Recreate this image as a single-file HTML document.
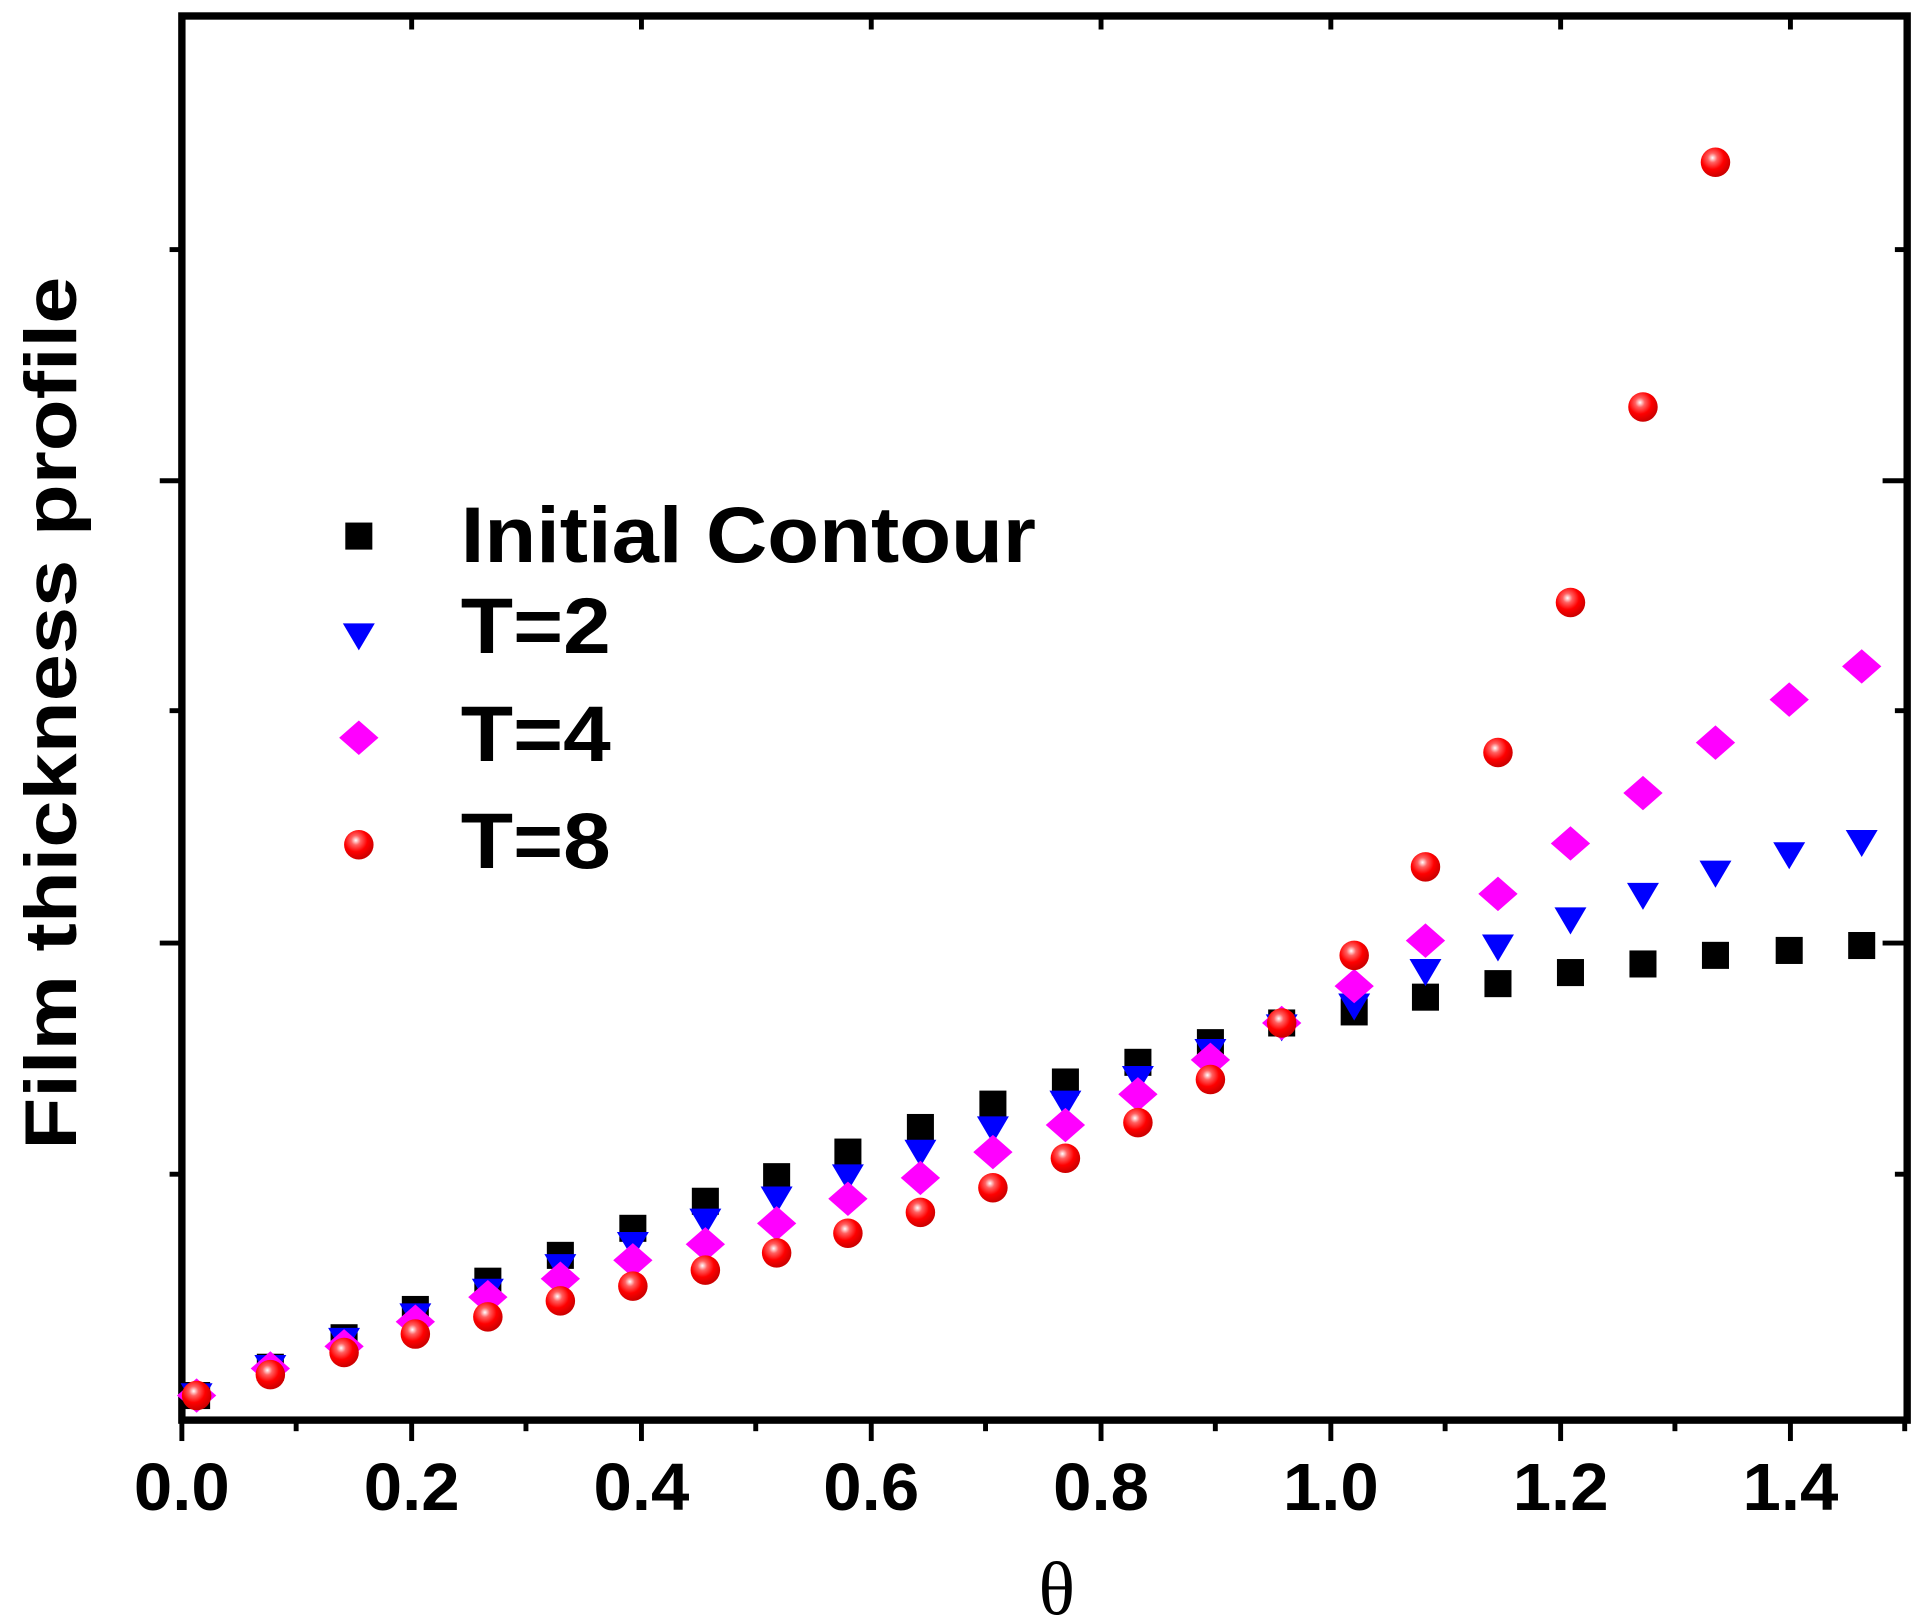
<!DOCTYPE html>
<html><head><style>html,body{margin:0;padding:0;background:#fff;}svg{display:block}</style></head>
<body>
<svg width="1917" height="1623" viewBox="0 0 1560 1320" preserveAspectRatio="none" xmlns="http://www.w3.org/2000/svg">
<defs>
<radialGradient id="g" cx="0.4" cy="0.35" r="0.65">
<stop offset="0" stop-color="#fff"/><stop offset="0.25" stop-color="#ff6060"/><stop offset="0.6" stop-color="#f00"/><stop offset="1" stop-color="#c00"/>
</radialGradient>
<rect id="sq" x="-11" y="-11" width="22" height="22" fill="#000"/>
<path id="tri" d="M-13,-10 L13,-10 L0,12 Z" fill="#0000ff"/>
<path id="dia" d="M0,-14 L16,0 L0,14 L-16,0 Z" fill="#ff00ff"/>
<circle id="cir" r="12" fill="url(#g)"/>
</defs>
<g stroke="#000" fill="none">
<rect x="148" y="13" width="1404" height="1142" stroke-width="6"/>
</g>
<g stroke="#000" stroke-width="4">
<line x1="148" y1="1155" x2="148" y2="1172"/><line x1="335" y1="1155" x2="335" y2="1172"/><line x1="522" y1="1155" x2="522" y2="1172"/><line x1="709" y1="1155" x2="709" y2="1172"/><line x1="896" y1="1155" x2="896" y2="1172"/><line x1="1083" y1="1155" x2="1083" y2="1172"/><line x1="1270" y1="1155" x2="1270" y2="1172"/><line x1="1457" y1="1155" x2="1457" y2="1172"/>
<line x1="241" y1="1155" x2="241" y2="1164"/><line x1="428" y1="1155" x2="428" y2="1164"/><line x1="615" y1="1155" x2="615" y2="1164"/><line x1="802" y1="1155" x2="802" y2="1164"/><line x1="989" y1="1155" x2="989" y2="1164"/><line x1="1176" y1="1155" x2="1176" y2="1164"/><line x1="1363" y1="1155" x2="1363" y2="1164"/><line x1="1550" y1="1155" x2="1550" y2="1164"/>
<line x1="335" y1="13" x2="335" y2="24"/><line x1="522" y1="13" x2="522" y2="24"/><line x1="709" y1="13" x2="709" y2="24"/><line x1="896" y1="13" x2="896" y2="24"/><line x1="1083" y1="13" x2="1083" y2="24"/><line x1="1270" y1="13" x2="1270" y2="24"/><line x1="1457" y1="13" x2="1457" y2="24"/>
<line x1="138" y1="203" x2="148" y2="203"/><line x1="130" y1="391" x2="148" y2="391"/><line x1="138" y1="578" x2="148" y2="578"/><line x1="130" y1="767" x2="148" y2="767"/><line x1="138" y1="955" x2="148" y2="955"/>
<line x1="1542" y1="203" x2="1552" y2="203"/><line x1="1532" y1="391" x2="1552" y2="391"/><line x1="1542" y1="578" x2="1552" y2="578"/><line x1="1532" y1="767" x2="1552" y2="767"/><line x1="1542" y1="955" x2="1552" y2="955"/>
</g>
<g font-family="Liberation Sans, sans-serif" font-weight="bold" font-size="54" text-anchor="middle">
<text x="148" y="1228" textLength="78" lengthAdjust="spacingAndGlyphs">0.0</text><text x="335" y="1228" textLength="78" lengthAdjust="spacingAndGlyphs">0.2</text><text x="522" y="1228" textLength="78" lengthAdjust="spacingAndGlyphs">0.4</text><text x="709" y="1228" textLength="78" lengthAdjust="spacingAndGlyphs">0.6</text><text x="896" y="1228" textLength="78" lengthAdjust="spacingAndGlyphs">0.8</text><text x="1083" y="1228" textLength="78" lengthAdjust="spacingAndGlyphs">1.0</text><text x="1270" y="1228" textLength="78" lengthAdjust="spacingAndGlyphs">1.2</text><text x="1457" y="1228" textLength="78" lengthAdjust="spacingAndGlyphs">1.4</text>
</g>
<text x="860" y="1313" font-family="Liberation Serif, serif" font-size="62" text-anchor="middle">θ</text>
<text transform="translate(62,580) rotate(-90)" font-family="Liberation Sans, sans-serif" font-weight="bold" font-size="60" text-anchor="middle" textLength="710" lengthAdjust="spacingAndGlyphs">Film thickness profile</text>
<g font-family="Liberation Sans, sans-serif" font-weight="bold" font-size="64">
<use href="#sq" x="292" y="436"/><text x="375" y="457" textLength="468" lengthAdjust="spacingAndGlyphs">Initial Contour</text>
<use href="#tri" x="292" y="517"/><text x="375" y="531" textLength="122" lengthAdjust="spacingAndGlyphs">T=2</text>
<use href="#dia" x="292" y="600"/><text x="375" y="619" textLength="122" lengthAdjust="spacingAndGlyphs">T=4</text>
<use href="#cir" x="292" y="687"/><text x="375" y="706" textLength="122" lengthAdjust="spacingAndGlyphs">T=8</text>
</g>
<g id="data"></g>
<script>
var xs=[160,220,280,338,397,456,515,574,632,690,749,808,867,926,985,1043,1102,1160,1219,1278,1337,1396,1456,1515];
var S=[1135,1112,1088,1065,1042,1021,999,977,957,937,917,898,880,864,848,832,823,811,800,791,784,777,773,769];
var T=[1135,1112,1090,1070,1050,1030,1012,993,975,957,937,918,897,877,855,835,818,790,770,748,728,710,695,685];
var D=[1135,1113,1095,1075,1055,1040,1025,1012,995,975,958,937,915,890,862,832,802,765,727,686,645,604,569,542];
var C=[1135,1118,1100,1085,1071,1058,1046,1033,1019,1003,986,966,942,913,878,832,777,705,612,490,331,132];
var g=document.getElementById('data'),ns='http://www.w3.org/2000/svg';
function add(id,arr){arr.forEach(function(y,i){var u=document.createElementNS(ns,'use');u.setAttribute('href','#'+id);u.setAttribute('x',xs[i]);u.setAttribute('y',y);g.appendChild(u);});}
add('sq',S);add('tri',T);add('dia',D);add('cir',C);
</script>
</svg>
</body></html>
